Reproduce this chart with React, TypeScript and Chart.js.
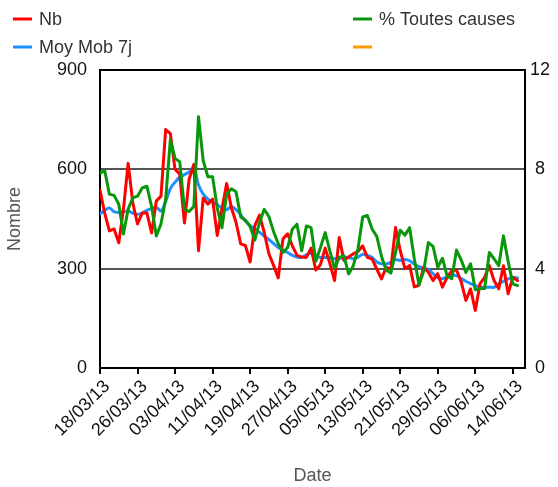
import React, { useEffect, useRef } from 'react';
import { Chart, registerables } from 'chart.js';

Chart.register(...registerables);

// Tick labels on the date axis (one every 8 days, day 0 = 18/03/13)
const tickLabels = [
  '18/03/13', '26/03/13', '03/04/13', '11/04/13', '19/04/13', '27/04/13',
  '05/05/13', '13/05/13', '21/05/13', '29/05/13', '06/06/13', '14/06/13',
];
const tickStep = 8;
const dayMax = 90.6;

// Nb (left axis)
const nb = [
  537, 468, 414, 420, 378, 480, 618, 498, 435, 468,
  468, 408, 504, 519, 720, 708, 600, 585, 438, 570,
  615, 354, 513, 495, 510, 400, 480, 557, 484, 440,
  375, 370, 320, 430, 462, 410, 345, 310, 272, 390,
  405, 369, 340, 335, 334, 362, 296, 312, 362, 316,
  264, 394, 325, 335, 345, 352, 369, 334, 329, 299,
  269, 304, 299, 424, 355, 300, 310, 245, 250, 304,
  289, 264, 285, 244, 274, 294, 296, 260, 204, 239,
  174, 254, 274, 309, 264, 239, 309, 224, 274, 264,
];

// Moy Mob 7j (left axis)
const moyMob = [
  466, 476, 483, 472, 470, 472, 474, 468, 464, 468,
  476, 482, 486, 474, 503, 542, 561, 576, 584, 592,
  604, 553, 525, 510, 500, 493, 483, 478, 488, 478,
  463, 444, 430, 420, 410, 398, 388, 376, 364, 356,
  349, 340, 335, 334, 342, 346, 336, 334, 334, 333,
  330, 331, 333, 334, 330, 335, 343, 340, 334, 320,
  315, 314, 319, 327, 325, 328, 324, 314, 306, 302,
  298, 285, 272, 270, 275, 279, 279, 270, 262, 255,
  249, 245, 244, 244, 244, 253, 262, 269, 273, 272,
];

// % Toutes causes (right axis)
const pctToutes = [
  7.85, 7.95, 7.0, 6.95, 6.6, 5.4, 6.4, 6.85, 6.92, 7.25,
  7.32, 6.5, 5.32, 5.8, 6.8, 9.2, 8.44, 8.3, 6.4, 6.3,
  6.5, 10.12, 8.35, 7.7, 7.7, 6.44, 5.65, 7.0, 7.22, 7.1,
  6.08, 5.95, 5.7, 5.15, 5.85, 6.39, 6.1, 5.5, 5.0, 4.65,
  4.85, 5.59, 5.79, 4.72, 5.72, 5.65, 4.3, 4.85, 5.45, 4.72,
  4.0, 4.45, 4.52, 3.79, 4.12, 4.8, 6.08, 6.14, 5.6, 5.3,
  4.5, 3.95, 3.82, 4.65, 5.55, 5.35, 5.65, 4.4, 3.35, 3.9,
  5.05, 4.9, 4.05, 4.42, 3.7, 3.6, 4.75, 4.35, 3.85, 4.2,
  3.15, 3.2, 3.2, 4.65, 4.4, 4.12, 5.32, 4.3, 3.39, 3.32,
];

const FONT = "'Liberation Sans', Arial, Helvetica, sans-serif";

const toPoints = (arr: number[]) => arr.map((v, i) => ({ x: i, y: v }));

const legendPlugin = {
  id: 'twoColLegend',
  afterDraw(chart: any) {
    const ctx = chart.ctx as CanvasRenderingContext2D;
    const cols = [13, 353];
    const rows = [19, 47];
    ctx.save();
    ctx.font = `18px ${FONT}`;
    ctx.textBaseline = 'middle';
    ctx.textAlign = 'left';
    chart.data.datasets.forEach((ds: any, i: number) => {
      const x = cols[i % 2];
      const y = rows[Math.floor(i / 2)];
      ctx.strokeStyle = ds.borderColor;
      ctx.lineWidth = 3;
      ctx.lineCap = 'butt';
      ctx.beginPath();
      ctx.moveTo(x, y);
      ctx.lineTo(x + 19, y);
      ctx.stroke();
      if (ds.label) {
        ctx.fillStyle = '#333';
        ctx.fillText(ds.label, x + 26, y + 1);
      }
    });
    ctx.restore();
  },
};

export default function App() {
  const ref = useRef<HTMLCanvasElement>(null);

  useEffect(() => {
    const canvas = ref.current;
    if (!canvas) return;
    const chart = new Chart(canvas, {
      type: 'line',
      data: {
        datasets: [
          {
            label: 'Nb',
            data: toPoints(nb),
            borderColor: '#ff0000',
            borderWidth: 3,
            pointRadius: 0,
            tension: 0,
            yAxisID: 'y',
            order: 2,
          },
          {
            label: '% Toutes causes',
            data: toPoints(pctToutes),
            borderColor: '#0a960a',
            borderWidth: 3,
            pointRadius: 0,
            tension: 0,
            yAxisID: 'y1',
            order: 1,
          },
          {
            label: 'Moy Mob 7j',
            data: toPoints(moyMob),
            borderColor: '#1e90ff',
            borderWidth: 3,
            pointRadius: 0,
            tension: 0.4,
            yAxisID: 'y',
            order: 3,
          },
          {
            label: '',
            data: [],
            borderColor: '#ff9900',
            borderWidth: 3,
            pointRadius: 0,
            yAxisID: 'y',
            order: 4,
          },
        ],
      },
      options: {
        responsive: false,
        animation: false,
        devicePixelRatio: 1,
        layout: { padding: { top: 70, left: 0, right: 0, bottom: 0 } },
        elements: { line: { borderJoinStyle: 'round', borderCapStyle: 'round' } },
        plugins: {
          legend: { display: false },
          tooltip: { enabled: false },
        },
        scales: {
          x: {
            type: 'linear',
            min: 0,
            max: dayMax,
            afterBuildTicks: (s: any) => {
              s.ticks = tickLabels.map((_, i) => ({ value: i * tickStep }));
            },
            afterFit: (s: any) => {
              s.height = 119;
            },
            ticks: {
              autoSkip: false,
              minRotation: 45,
              maxRotation: 45,
              padding: 2,
              labelOffset: 7,
              color: '#111',
              font: { family: FONT, size: 18 },
              callback: (_v: any, i: number) => tickLabels[i] ?? '',
            },
            grid: {
              drawOnChartArea: false,
              drawTicks: true,
              tickLength: 6,
              color: '#000',
              lineWidth: 2,
            },
            border: { display: true, color: '#000', width: 2 },
            title: {
              display: true,
              text: 'Date',
              color: '#555',
              font: { family: FONT, size: 18 },
              padding: { top: 0, bottom: 0 },
            },
          },
          y: {
            type: 'linear',
            position: 'left',
            min: 0,
            max: 900,
            afterFit: (s: any) => {
              s.width = 100;
            },
            ticks: {
              stepSize: 300,
              padding: 13,
              color: '#111',
              font: { family: FONT, size: 18 },
            },
            grid: {
              drawTicks: false,
              lineWidth: 2,
              color: (c: any) => (c.tick && c.tick.value === 900 ? '#000' : '#555'),
            },
            border: { display: true, color: '#000', width: 2 },
            title: {
              display: true,
              text: 'Nombre',
              color: '#555',
              font: { family: FONT, size: 18 },
              padding: { top: 4, bottom: 0 },
            },
          },
          y1: {
            type: 'linear',
            position: 'right',
            min: 0,
            max: 12,
            afterFit: (s: any) => {
              s.width = 33;
            },
            ticks: {
              stepSize: 4,
              padding: 5,
              crossAlign: 'center',
              color: '#111',
              font: { family: FONT, size: 18 },
            },
            grid: { drawOnChartArea: false, drawTicks: false },
            border: { display: true, color: '#000', width: 2 },
          },
        },
      },
      plugins: [legendPlugin],
    } as any);
    return () => chart.destroy();
  }, []);

  return (
    <div style={{ position: 'absolute', left: 0, top: 0, width: 558, height: 487, background: '#fff' }}>
      <canvas ref={ref} width={558} height={487} style={{ display: 'block', width: 558, height: 487 }} />
    </div>
  );
}
